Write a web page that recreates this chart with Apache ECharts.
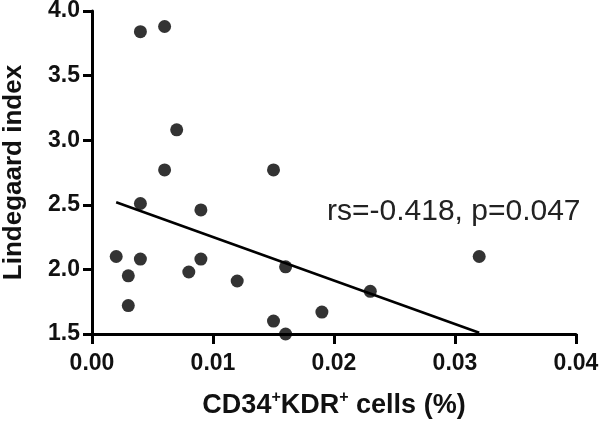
<!DOCTYPE html>
<html><head><meta charset="utf-8">
<script src="https://cdn.jsdelivr.net/npm/echarts@6/dist/echarts.min.js"></script>
<style>html,body{margin:0;padding:0;background:#fff}#c{width:600px;height:421px}</style>
</head><body><div id="c"></div>
<script>
const xValues = [0.002,0.003,0.003,0.004,0.004,0.009,0.009,0.008,0.012,0.004,0.006,0.007,0.006,0.015,0.016,0.015,0.016,0.019,0.023,0.032];
const yValues = [2.10,1.95,1.72,2.08,2.51,2.46,2.08,1.98,1.91,3.84,3.88,3.08,2.77,2.77,2.02,1.60,1.50,1.67,1.83,2.10];
const fitX = [0.002, 0.032];
const fitY = [2.52, 1.51];
const xTicks = ['0.00','0.01','0.02','0.03','0.04'];
const yTicks = ['1.5','2.0','2.5','3.0','3.5','4.0'];
const annotation = 'rs=-0.418, p=0.047';
const xTitle = 'CD34{sup|+}KDR{sup|+} cells (%)';
const yTitle = 'Lindegaard index';

const font = '"Liberation Sans", Arial, sans-serif';
const chart = echarts.init(document.getElementById('c'), null, {renderer:'canvas'});
chart.setOption({
  animation:false,
  grid:{left:92,right:24,top:11,bottom:87,containLabel:false,outerBoundsMode:'none'},
  xAxis:{type:'value',min:0,max:0.04,interval:0.01,
    axisLine:{lineStyle:{color:'#000',width:3}},
    axisTick:{show:true,length:10,lineStyle:{color:'#000',width:3}},
    splitLine:{show:false},
    axisLabel:{margin:18,color:'#111',fontFamily:font,fontWeight:'bold',fontSize:23,
      formatter:(v)=>xTicks[Math.round(v/0.01)]},
    name:xTitle,nameLocation:'middle',nameGap:56,
    nameTextStyle:{color:'#111',fontFamily:font,fontWeight:'bold',fontSize:27,
      rich:{sup:{fontFamily:font,fontWeight:'bold',fontSize:16,verticalAlign:'top',padding:[0,0,15,0],color:'#111'}}}
  },
  yAxis:{type:'value',min:1.5,max:4.0,interval:0.5,
    axisLine:{lineStyle:{color:'#000',width:3}},
    axisTick:{show:true,length:9,lineStyle:{color:'#000',width:3}},
    splitLine:{show:false},
    axisLabel:{margin:12,color:'#111',fontFamily:font,fontWeight:'bold',fontSize:23,
      formatter:(v)=>yTicks[Math.round((v-1.5)/0.5)]},
    name:yTitle,nameLocation:'middle',nameGap:65,nameRotate:90,
    nameTextStyle:{color:'#111',fontFamily:font,fontWeight:'bold',fontSize:26}
  },
  series:[
    {type:'scatter',symbol:'circle',symbolSize:13,itemStyle:{color:'#000'},
      data:xValues.map((x,i)=>[x,yValues[i]]),z:3},
    {type:'line',symbol:'none',lineStyle:{color:'#000',width:2.5},
      data:fitX.map((x,i)=>[x,fitY[i]]),z:2}
  ],
  graphic:[{type:'text',left:327,top:197,style:{text:annotation,fill:'#222',font:'30px '+font}}]
});
</script></body></html>
